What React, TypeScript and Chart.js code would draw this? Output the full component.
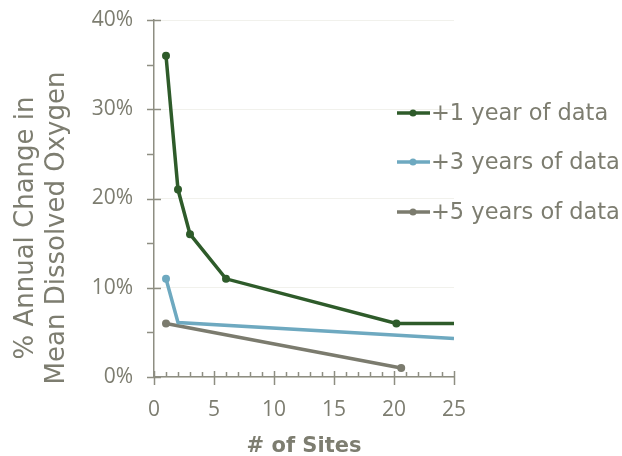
import React, { useEffect, useRef } from "react";
import { Chart, registerables } from "chart.js";

Chart.register(...registerables);

const seriesLabels = ["+1 year of data", "+3 years of data", "+5 years of data"];
const seriesColors = ["#2e5b2a", "#6ea9c0", "#7b7b6e"];
const yTitleLines = ["% Annual Change in", "Mean Dissolved Oxygen"];

const oneYearX = [1, 2, 3, 6, 20.2, 25];
const oneYearY = [36, 21, 16, 11, 6, 6];
const oneYearMarkers = [4, 4, 4, 4, 4, 0];

const threeYearX = [1, 2, 25];
const threeYearY = [11, 6.1, 4.3];
const threeYearMarkers = [4, 0, 0];

const fiveYearX = [1, 20.6];
const fiveYearY = [6, 1];
const fiveYearMarkers = [4, 4];

const xTickValues = [0, 5, 10, 15, 20, 25];
const yTickValues = [0, 10, 20, 30, 40];

const TEXT = "#7d7d70";
const AXIS = "#8e8e82";
const FONT = "'DejaVu Sans', sans-serif";
const TICK_FONT = "'Open Sans', sans-serif";

const toPoints = (xs: number[], ys: number[]) => xs.map((x, i) => ({ x, y: ys[i] }));

const axisTicksPlugin = {
  id: "axisTicks",
  afterDatasetsDraw(chart: any) {
    const { ctx, chartArea, scales } = chart;
    const xs = scales.x;
    const ys = scales.y;
    ctx.save();
    ctx.strokeStyle = AXIS;
    ctx.lineWidth = 1.5;
    ctx.beginPath();
    for (let v = 0; v <= 25; v++) {
      const px = Math.round(xs.getPixelForValue(v)) + 0.5;
      const b = chartArea.bottom;
      if (v % 5 === 0) {
        ctx.moveTo(px, b - 6);
        ctx.lineTo(px, b + 8);
      } else {
        ctx.moveTo(px, b - 5);
        ctx.lineTo(px, b);
      }
    }
    for (let v = 0; v <= 40; v += 5) {
      const py = Math.round(ys.getPixelForValue(v)) + 0.5;
      const l = chartArea.left;
      if (v % 10 === 0) {
        ctx.moveTo(l - 7, py);
        ctx.lineTo(l + 7, py);
      } else {
        ctx.moveTo(l - 7, py);
        ctx.lineTo(l, py);
      }
    }
    ctx.stroke();
    ctx.restore();
  },
};

const yTitlePlugin = {
  id: "yTitle",
  afterDraw(chart: any) {
    const { ctx } = chart;
    ctx.save();
    ctx.translate(0, 228);
    ctx.rotate(-Math.PI / 2);
    ctx.fillStyle = TEXT;
    ctx.font = `26px ${FONT}`;
    ctx.textAlign = "center";
    ctx.textBaseline = "middle";
    yTitleLines.forEach((line, i) => {
      ctx.fillText(line, 0, 26 + i * 31);
    });
    ctx.restore();
  },
};

const legendPlugin = {
  id: "customLegend",
  afterDraw(chart: any) {
    const { ctx } = chart;
    const rows = [113, 162, 212];
    ctx.save();
    chart.data.datasets.forEach((ds: any, i: number) => {
      const y = rows[i];
      ctx.strokeStyle = ds.borderColor;
      ctx.lineWidth = 3.5;
      ctx.beginPath();
      ctx.moveTo(397, y);
      ctx.lineTo(430, y);
      ctx.stroke();
      ctx.fillStyle = ds.borderColor;
      ctx.beginPath();
      ctx.arc(413, y, 3.5, 0, Math.PI * 2);
      ctx.fill();
      ctx.fillStyle = TEXT;
      ctx.font = `22.5px ${FONT}`;
      ctx.textBaseline = "middle";
      ctx.textAlign = "left";
      ctx.fillText(ds.label, 431, y + 1);
    });
    ctx.restore();
  },
};

export default function App() {
  const ref = useRef<HTMLCanvasElement>(null);

  useEffect(() => {
    if (!ref.current) return;
    const mk = (i: number, xs: number[], ys: number[], radii: number[]) => ({
      label: seriesLabels[i],
      data: toPoints(xs, ys),
      borderColor: seriesColors[i],
      backgroundColor: seriesColors[i],
      borderWidth: 3.5,
      pointRadius: radii,
      pointHoverRadius: radii,
      pointBorderWidth: 0,
      tension: 0,
      fill: false,
    });
    const chart = new Chart(ref.current, {
      type: "line",
      data: {
        datasets: [
          mk(0, oneYearX, oneYearY, oneYearMarkers),
          mk(1, threeYearX, threeYearY, threeYearMarkers),
          mk(2, fiveYearX, fiveYearY, fiveYearMarkers),
        ],
      },
      options: {
        animation: false,
        responsive: false,
        events: [],
        layout: { padding: { left: 0, right: 168, top: 20, bottom: 0 } },
        plugins: { legend: { display: false }, tooltip: { enabled: false } },
        scales: {
          x: {
            type: "linear",
            min: 0,
            max: 25,
            afterBuildTicks: (s: any) => {
              s.ticks = xTickValues.map((v) => ({ value: v }));
            },
            afterFit: (s: any) => {
              s.height = 79;
            },
            ticks: {
              color: TEXT,
              font: { family: TICK_FONT, size: 21 },
              padding: 20,
              maxRotation: 0,
            },
            grid: { display: false, drawTicks: false },
            border: { display: true, color: AXIS, width: 1.5 },
            title: {
              display: true,
              text: "# of Sites",
              color: TEXT,
              font: { family: FONT, size: 21, weight: "bold", lineHeight: 1.0 },
              padding: { top: 0, bottom: -1 },
            },
          },
          y: {
            type: "linear",
            min: 0,
            max: 40,
            afterBuildTicks: (s: any) => {
              s.ticks = yTickValues.map((v) => ({ value: v }));
            },
            afterFit: (s: any) => {
              s.width = 154;
              s.paddingTop = 0;
              s.paddingBottom = 0;
            },
            ticks: {
              color: TEXT,
              font: { family: TICK_FONT, size: 21 },
              padding: 21,
              callback: (v: any) => `${v}%`,
            },
            grid: { display: true, drawTicks: false, color: "#f1f1ec", lineWidth: 1 },
            border: { display: true, color: AXIS, width: 1.5 },
            title: { display: false },
          },
        },
      },
      plugins: [axisTicksPlugin, yTitlePlugin, legendPlugin],
    });
    return () => chart.destroy();
  }, []);

  return (
    <div style={{ position: "absolute", left: 0, top: 0, width: 622, height: 456, background: "#fff" }}>
      <canvas ref={ref} width={622} height={456} />
    </div>
  );
}
